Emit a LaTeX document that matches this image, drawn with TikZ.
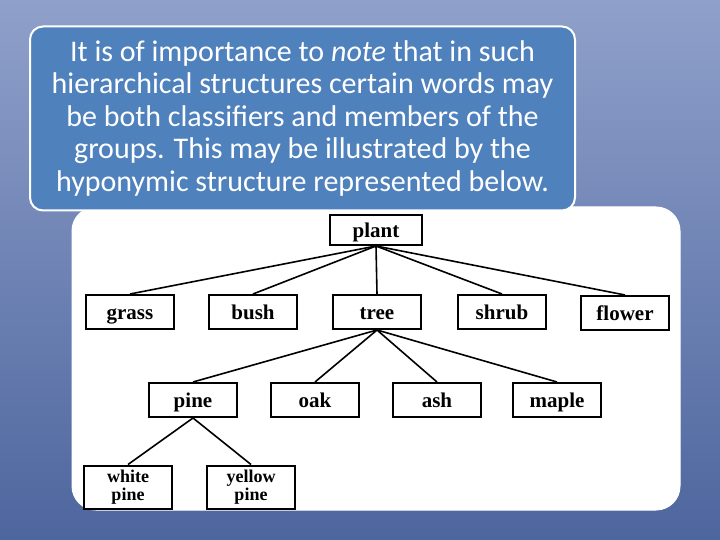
\documentclass[tikz,border=0pt]{standalone}
\usepackage{fontspec}
\setmainfont{Carlito}
\newfontfamily\treefont{Liberation Serif}
\definecolor{bgtop}{RGB}{143,160,202}
\definecolor{bgbot}{RGB}{78,102,158}
\definecolor{boxblue}{RGB}{79,129,189}
\tikzset{
  treebox/.style={draw=black, line width=2pt, fill=white, minimum width=88pt, minimum height=34pt, inner sep=0pt, font=\treefont\fontsize{21}{16}\selectfont\bfseries, text height=17pt, text depth=3pt},
  twoline/.style={draw=black, line width=2pt, fill=white, minimum width=88pt, minimum height=43pt, inner sep=0pt, align=center, font=\treefont\fontsize{18}{18.5}\selectfont\bfseries},
  treeline/.style={draw=black, line width=1.6pt},
}
\begin{document}
\begin{tikzpicture}[x=1pt,y=-1pt]
\useasboundingbox (0,0) rectangle (720,540);
\shade[top color=bgtop, bottom color=bgbot] (0,0) rectangle (720,540);
% white panel
\node[draw=white, line width=1pt, fill=white, rounded corners=24pt, minimum width=608pt, minimum height=303pt, inner sep=0pt] (panel) at (376,358.5) {};
% text box
\node[draw=white, line width=2pt, fill=boxblue, rounded corners=13pt, minimum width=545pt, minimum height=184pt, inner sep=0pt, text=white, align=center, font=\fontsize{30}{32.5}\selectfont] (txt) at (302.5,118.5)
{It is of importance to \textit{note} that in such\\hierarchical structures certain words may\\be both classifiers and members of the\\groups. This may be illustrated by the\\hyponymic structure represented below.};
% tree
\node[treebox, minimum width=92pt, minimum height=30pt] (plant) at (376,230) {plant};
\node[treebox] (grass) at (130,312) {grass};
\node[treebox] (bush) at (253,312) {bush};
\node[treebox] (tree) at (377,312) {tree};
\node[treebox] (shrub) at (502,312) {shrub};
\node[treebox] (flower) at (625,313) {flower};
\node[treebox] (pine) at (193,400) {pine};
\node[treebox] (oak) at (315,400) {oak};
\node[treebox] (ash) at (437,400) {ash};
\node[treebox] (maple) at (557,400) {maple};
\node[twoline] (wpine) at (128,487) {white\\pine};
\node[twoline] (ypine) at (251,487) {yellow\\pine};
\foreach \c in {grass,bush,tree,shrub,flower} \draw[treeline] (plant.south) -- (\c.north);
\foreach \c in {pine,oak,ash,maple} \draw[treeline] (tree.south) -- (\c.north);
\foreach \c in {wpine,ypine} \draw[treeline] (pine.south) -- (\c.north);
\end{tikzpicture}
\end{document}
